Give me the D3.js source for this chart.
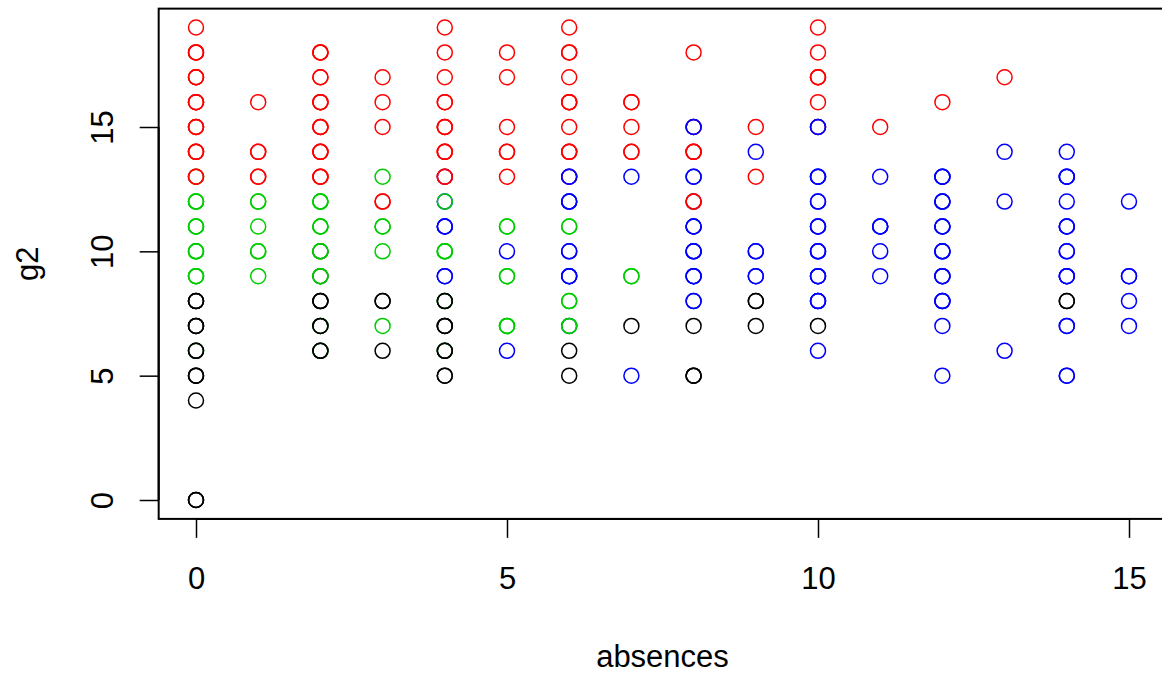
<!DOCTYPE html>
<html>
<head>
<meta charset="utf-8">
<script src="https://cdn.jsdelivr.net/npm/d3@7"></script>
<style>
  html, body { margin: 0; padding: 0; background: #ffffff; }
  svg { display: block; }
  text { font-family: "Liberation Sans", Arial, Helvetica, sans-serif; fill: #000; }
</style>
</head>
<body>
<svg id="chart" width="1162" height="673"></svg>
<script>
// ---- data (one entry per visible marker; count = overlapping students) ----
const absences = [
  0,0,0,0,0,0,0,0,0,0,0,0,0,0,0,0,0,0,0,
  1,1,1,1,1,1,1,
  2,2,2,2,2,2,2,2,2,2,2,2,2,2,2,2,2,
  3,3,3,3,3,3,3,3,3,3,
  4,4,4,4,4,4,4,4,4,4,4,4,4,4,4,4,4,4,4,
  5,5,5,5,5,5,5,5,5,5,
  6,6,6,6,6,6,6,6,6,6,6,6,6,6,6,6,6,
  7,7,7,7,7,7,7,
  8,8,8,8,8,8,8,8,8,8,8,8,8,
  9,9,9,9,9,9,9,
  10,10,10,10,10,10,10,10,10,10,10,10,10,10,
  11,11,11,11,11,
  12,12,12,12,12,12,12,12,12,
  13,13,13,13,
  14,14,14,14,14,14,14,14,14,
  15,15,15,15
];
const g2 = [
  19,18,17,16,15,14,13,13,12,11,10,9,8,7,6,6,5,4,0,
  16,14,13,12,11,10,9,
  18,17,16,15,14,13,12,11,10,10,9,9,8,7,7,6,6,
  17,16,15,13,12,11,10,8,7,6,
  19,18,17,16,15,14,13,13,12,12,11,10,9,8,8,7,6,6,5,
  18,17,15,14,13,11,10,9,7,6,
  19,18,17,16,15,14,13,13,12,11,10,9,8,7,7,6,5,
  16,15,14,13,9,7,5,
  18,15,15,14,13,12,12,11,10,9,8,7,5,
  15,14,13,10,9,8,7,
  19,18,17,16,15,15,13,12,11,10,9,8,7,6,
  15,13,11,10,9,
  16,13,12,11,10,9,8,7,5,
  17,14,12,6,
  14,13,12,11,10,9,8,7,5,
  12,9,8,7
];
const cluster = [
  2,2,2,2,2,2,3,2,3,3,3,3,1,1,3,1,1,1,1,
  2,2,2,3,3,3,3,
  2,2,2,2,2,2,3,3,1,3,1,3,1,3,1,3,1,
  2,2,2,3,2,3,3,1,3,1,
  2,2,2,2,2,2,4,2,4,3,4,3,4,3,1,1,3,1,1,
  2,2,2,2,2,3,4,3,3,4,
  2,2,2,2,2,2,2,4,4,3,4,4,3,4,3,1,1,
  2,2,2,4,3,1,4,
  2,2,4,2,4,4,2,4,4,4,4,1,1,
  2,4,2,4,4,1,1,
  2,2,2,2,2,4,4,4,4,4,4,4,1,4,
  2,4,4,4,4,
  2,4,4,4,4,4,4,4,4,
  2,4,4,4,
  4,4,4,4,4,4,1,4,4,
  4,4,4,4
];
const count = [
  1,3,3,3,3,3,1,2,3,3,3,3,3,3,1,2,3,1,3,
  1,2,2,2,1,2,1,
  3,2,3,3,3,3,3,3,1,2,1,2,3,1,2,1,2,
  1,1,1,1,2,2,1,2,1,1,
  1,1,1,2,3,3,1,2,1,1,3,3,2,1,2,3,1,2,2,
  1,1,1,2,1,2,1,2,3,1,
  1,2,1,3,1,3,1,2,3,2,2,3,2,1,2,1,1,
  2,1,2,1,2,1,1,
  1,1,2,3,2,1,2,3,3,3,2,1,3,
  1,1,1,2,2,2,1,
  1,1,3,1,1,2,3,2,3,3,3,3,1,1,
  1,1,3,1,1,
  1,3,3,3,3,3,3,1,1,
  1,1,1,1,
  1,3,1,3,2,3,2,2,2,
  1,2,1,1
];
const palette = ["#000000", "#FF0000", "#00CD00", "#0000FF"]; // R palette 1..4
const xTicks = [0, 5, 10, 15];
const yTicks = [0, 5, 10, 15];
const xLabel = "absences";
const yLabel = "g2";

// ---- scales ----
const x = d3.scaleLinear().domain([0, 15]).range([196, 1129]);
const y = d3.scaleLinear().domain([0, 15]).range([500, 127]);
const xMin = -0.6, xMax = 15.6, yMin = -0.76, yMax = 19.76;

const svg = d3.select("#chart");
svg.append("rect").attr("width", 1162).attr("height", 673).attr("fill", "#fff");

const fs = 31;

// ---- points ----
const pts = [];
absences.forEach((a, i) => {
  for (let k = 0; k < count[i]; k++) pts.push({ a, g: g2[i], c: cluster[i] });
});
svg.append("g").selectAll("circle").data(pts).join("circle")
  .attr("cx", d => x(d.a))
  .attr("cy", d => y(d.g))
  .attr("r", 7.5)
  .attr("fill", "none")
  .attr("stroke", d => palette[d.c - 1])
  .attr("stroke-width", 1.5);

// ---- box ----
svg.append("rect")
  .attr("x", x(xMin)).attr("y", y(yMax))
  .attr("width", x(xMax) - x(xMin)).attr("height", y(yMin) - y(yMax))
  .attr("fill", "none").attr("stroke", "#000").attr("stroke-width", 2);

// ---- x axis ----
const gx = svg.append("g").attr("transform", `translate(0,${y(yMin)})`)
  .call(d3.axisBottom(x).tickValues(xTicks).tickSize(19).tickPadding(29).tickFormat(d3.format("d")));
gx.select(".domain").remove();
gx.append("line").attr("x1", x(0)).attr("x2", x(15)).attr("stroke", "#000").attr("stroke-width", 2);
gx.selectAll(".tick line").attr("stroke", "#000").attr("stroke-width", 1.5);
gx.selectAll(".tick text").attr("font-size", fs).attr("fill", "#000")
  .style("font-family", '"Liberation Sans", Arial, sans-serif');

// ---- y axis ----
const gy = svg.append("g").attr("transform", `translate(${x(xMin)},0)`)
  .call(d3.axisLeft(y).tickValues(yTicks).tickSize(19).tickFormat(d3.format("d")));
gy.select(".domain").remove();
gy.append("line").attr("y1", y(0)).attr("y2", y(15)).attr("stroke", "#000").attr("stroke-width", 2);
gy.selectAll(".tick line").attr("stroke", "#000").attr("stroke-width", 1.5);
gy.selectAll(".tick text")
  .attr("x", 0).attr("dy", null).attr("y", -(x(xMin) - 113))
  .attr("transform", "rotate(-90)")
  .attr("text-anchor", "middle")
  .attr("font-size", fs).attr("fill", "#000")
  .style("font-family", '"Liberation Sans", Arial, sans-serif');

// ---- axis titles ----
svg.append("text")
  .attr("x", (x(xMin) + x(xMax)) / 2).attr("y", 667)
  .attr("text-anchor", "middle").attr("font-size", fs)
  .text(xLabel);
svg.append("text")
  .attr("transform", `translate(38,${(y(yMin) + y(yMax)) / 2}) rotate(-90)`)
  .attr("text-anchor", "middle").attr("font-size", fs)
  .text(yLabel);
</script>
</body>
</html>
